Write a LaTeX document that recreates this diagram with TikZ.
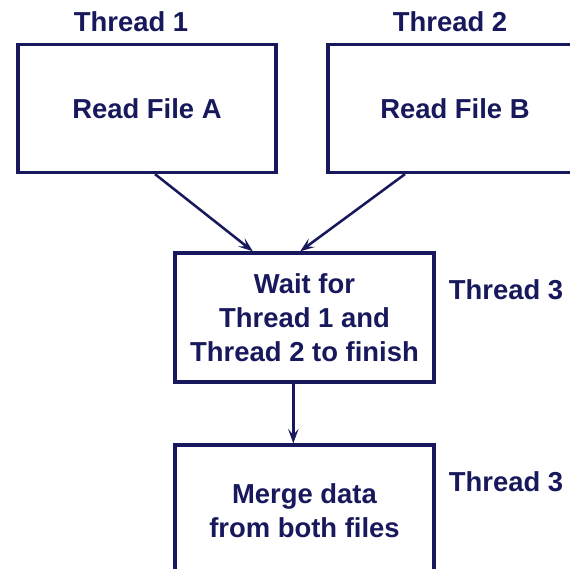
\documentclass[tikz,border=0pt]{standalone}
\usepackage{fontspec}
\setmainfont{Liberation Sans}
\usetikzlibrary{arrows.meta}
\definecolor{navy}{RGB}{24,24,92}
\tikzset{
	box/.style={draw=navy,line width=2.3pt,minimum width=6.45cm,minimum height=3.2cm,align=center,text=navy},
	lbl/.style={text=navy},
	flow/.style={draw=navy,line width=1.8pt,-{Stealth[length=3.6mm,width=2.6mm,inset=1.5mm]}}
}
\begin{document}
\begin{tikzpicture}[x=0.025cm,y=-0.025cm,font=\bfseries\fontsize{19.5}{24}\selectfont]
	\clip (0,0) rectangle (570,569);
	\useasboundingbox (0,0) rectangle (570,569);
	\fill[white] (0,0) rectangle (570,569);
	% boxes
	\node[box] (readA) at (147,108.5) {Read File A};
	\node[box,minimum width=6.35cm] (readB) at (455,108.5) {Read File B};
	\node[box,minimum width=6.475cm,minimum height=3.225cm] (wait) at (304.5,317.5) {Wait for\\Thread 1 and\\Thread 2 to finish};
	\node[box,minimum width=6.475cm,minimum height=3.3cm] (merge) at (304.5,511) {Merge data\\from both files};
	% thread labels
	\node[lbl] (t1) at (131,22) {Thread 1};
	\node[lbl] (t2) at (450,22) {Thread 2};
	\node[lbl] (t3a) at (506,290) {Thread 3};
	\node[lbl] (t3b) at (506,482) {Thread 3};
	% arrows
	\draw[flow] ([xshift=0.2cm]readA.south) -- ([xshift=-1.29cm]wait.north);
	\draw[flow] ([xshift=-1.25cm]readB.south) -- ([xshift=-0.11cm]wait.north);
	\draw[flow] ([xshift=-0.28cm]wait.south) -- ([xshift=-0.28cm]merge.north);
\end{tikzpicture}
\end{document}
